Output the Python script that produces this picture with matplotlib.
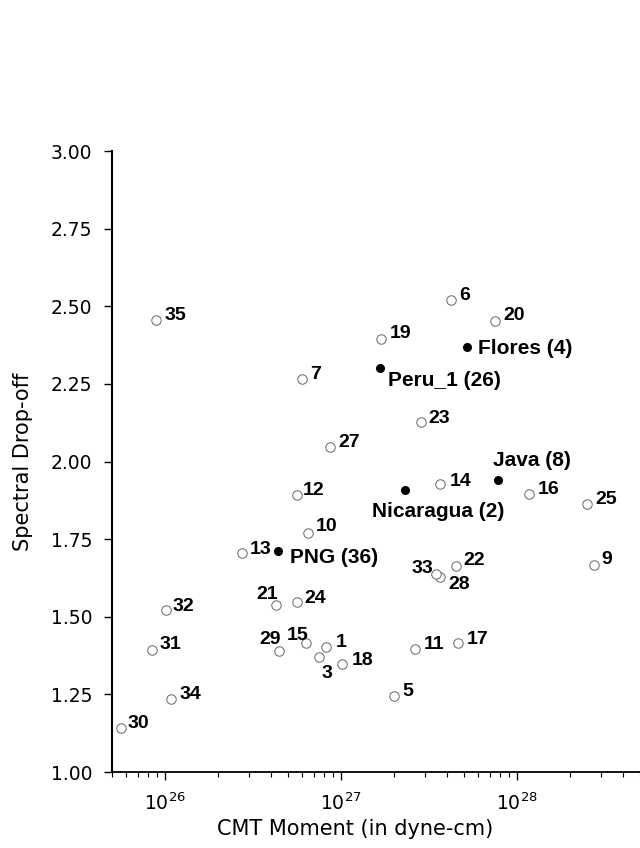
import matplotlib
matplotlib.use("Agg")
import matplotlib.pyplot as plt
from matplotlib.ticker import FixedLocator, FormatStrFormatter

# open circles: event number, CMT moment (dyne-cm), spectral drop-off
ids = [1, 3, 5, 6, 7, 9, 10, 11, 12, 13, 14, 15, 16, 17, 18, 19, 20, 21, 22,
       23, 24, 25, 27, 28, 29, 30, 31, 32, 33, 34, 35]
moment = [8.26e26, 7.5e26, 2.0e27, 4.2e27, 6.0e26, 2.73e28, 6.5e26, 2.64e27,
          5.6e26, 2.74e26, 3.66e27, 6.3e26, 1.17e28, 4.6e27, 1.02e27, 1.69e27,
          7.5e27, 4.29e26, 4.49e27, 2.84e27, 5.65e26, 2.5e28, 8.66e26, 3.65e27,
          4.43e26, 5.6e25, 8.44e25, 1.01e26, 3.48e27, 1.08e26, 8.9e25]
dropoff = [1.403, 1.370, 1.246, 2.520, 2.266, 1.668, 1.770, 1.397, 1.892, 1.704,
           1.927, 1.414, 1.896, 1.415, 1.347, 2.395, 2.453, 1.538, 1.664, 2.127,
           1.547, 1.864, 2.048, 1.627, 1.390, 1.143, 1.394, 1.521, 1.637, 1.236,
           2.456]

# filled dots: named events
names = ["Nicaragua (2)", "Flores (4)", "Java (8)", "Peru_1 (26)", "PNG (36)"]
named_moment = [2.31e27, 5.2e27, 7.77e27, 1.66e27, 4.37e26]
named_dropoff = [1.907, 2.370, 1.939, 2.302, 1.713]

yticks = [1.00, 1.25, 1.50, 1.75, 2.00, 2.25, 2.50, 2.75, 3.00]

# label placement (pixels from point: right, down to text centre), alignment
num_off = {1: (9, -6), 3: (3, 14), 5: (8, -6), 6: (9, -7), 7: (8, -6),
           9: (8, -7), 10: (8, -8), 11: (9, -6), 12: (6, -7), 13: (8, -6),
           14: (10, -5), 15: (-8, -10, "center"), 16: (9, -6), 17: (9, -6),
           18: (9, -6), 19: (9, -7), 20: (8, -7), 21: (-9, -12, "center"),
           22: (8, -7), 23: (8, -6), 24: (7, -6), 25: (8, -6), 27: (8, -6),
           28: (8, 5), 29: (-9, -13, "center"), 30: (7, -6), 31: (7, -7),
           32: (7, -6), 33: (-3, -8, "right"), 34: (9, -6), 35: (8, -6)}
name_off = {"Nicaragua (2)": (-33, 19), "Flores (4)": (11, 0),
            "Java (8)": (-5, -22), "Peru_1 (26)": (8, 11), "PNG (36)": (12, 5)}

fig = plt.figure(figsize=(6.4, 8.48), dpi=100)
ax = fig.add_axes([0.175, 0.0896, 0.825, 0.7323])

ax.plot(moment, dropoff, "o", ms=6.8, mfc="white", mec="#666666", mew=0.7,
        linestyle="none", zorder=3)
ax.plot(named_moment, named_dropoff, "o", ms=5.5, mfc="black", mec="black",
        linestyle="none", zorder=3)

for i, x, y in zip(ids, moment, dropoff):
    o = num_off[i]
    ha = o[2] if len(o) > 2 else "left"
    ax.annotate(str(i), (x, y), xytext=(o[0], -(o[1] + 6.5)),
                textcoords="offset pixels", ha=ha, va="baseline",
                fontsize=14, fontweight="bold", family="Liberation Sans")

for n, x, y in zip(names, named_moment, named_dropoff):
    o = name_off[n]
    ax.annotate(n, (x, y), xytext=(o[0], -(o[1] + 7.5)),
                textcoords="offset pixels", ha="left", va="baseline",
                fontsize=15, fontweight="bold", family="Liberation Sans")

ax.set_xscale("log")
ax.set_xlim(5e25, 5e28)
ax.set_ylim(1.0, 3.0)
ax.yaxis.set_major_locator(FixedLocator(yticks))
ax.yaxis.set_major_formatter(FormatStrFormatter("%.2f"))

for s in ["top", "right"]:
    ax.spines[s].set_visible(False)
ax.spines["left"].set_linewidth(1.5)
ax.spines["bottom"].set_linewidth(1.3)

ax.tick_params(axis="y", length=6, width=1, pad=8, labelsize=13.5)
ax.tick_params(axis="x", which="major", length=6, width=1, pad=9, labelsize=13.5)
ax.tick_params(axis="x", which="minor", length=3.5, width=0.8)

ax.set_xlabel("CMT Moment (in dyne-cm)", fontsize=15, labelpad=8)
ax.xaxis.set_label_coords(0.46, -0.075)
ax.set_ylabel("Spectral Drop-off", fontsize=15, labelpad=10)
ax.yaxis.set_label_coords(-0.15, 0.5)

fig.savefig("out.png", dpi=100)
